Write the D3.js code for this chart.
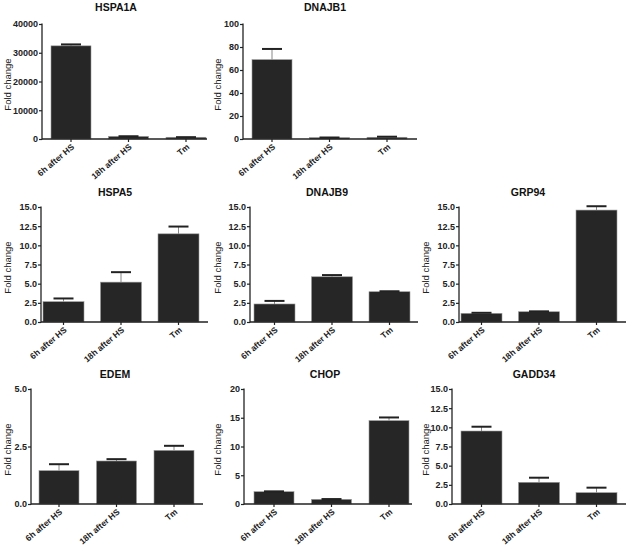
<!DOCTYPE html>
<html><head><meta charset="utf-8">
<script src="https://cdn.jsdelivr.net/npm/d3@7"></script>
<style>body{margin:0;background:#fff}svg{display:block}</style>
</head><body><svg id="c" width="628" height="547"></svg>
<script>
const categories = ["6h after HS", "18h after HS", "Tm"];
const genes = ["HSPA1A", "DNAJB1", "HSPA5", "DNAJB9", "GRP94", "EDEM", "CHOP", "GADD34"];
const hspa1aMean = [32400, 900, 600];
const hspa1aSem  = [500, 60, 40];
const dnajb1Mean = [69, 1.2, 1.5];
const dnajb1Sem  = [9.3, 0.1, 0.5];
const hspa5Mean  = [2.65, 5.2, 11.5];
const hspa5Sem   = [0.42, 1.3, 0.95];
const dnajb9Mean = [2.35, 5.9, 3.95];
const dnajb9Sem  = [0.4, 0.22, 0.06];
const grp94Mean  = [1.13, 1.34, 14.6];
const grp94Sem   = [0.07, 0.05, 0.5];
const edemMean   = [1.45, 1.87, 2.33];
const edemSem    = [0.28, 0.08, 0.2];
const chopMean   = [2.14, 0.81, 14.5];
const chopSem    = [0.06, 0.05, 0.55];
const gadd34Mean = [9.52, 2.83, 1.48];
const gadd34Sem  = [0.56, 0.6, 0.65];
const yMaxes = [40000, 100, 15, 15, 15, 5, 20, 15];
const yTicks = [
  [0, 10000, 20000, 30000, 40000],
  [0, 20, 40, 60, 80, 100],
  [0, 2.5, 5, 7.5, 10, 12.5, 15],
  [0, 2.5, 5, 7.5, 10, 12.5, 15],
  [0, 2.5, 5, 7.5, 10, 12.5, 15],
  [0, 2.5, 5],
  [0, 5, 10, 15, 20],
  [0, 2.5, 5, 7.5, 10, 12.5, 15]
];
const yFormats = ["d", "d", ".1f", ".1f", ".1f", ".1f", "d", ".1f"];
const means = [hspa1aMean, dnajb1Mean, hspa5Mean, dnajb9Mean, grp94Mean, edemMean, chopMean, gadd34Mean];
const sems  = [hspa1aSem, dnajb1Sem, hspa5Sem, dnajb9Sem, grp94Sem, edemSem, chopSem, gadd34Sem];

// layout (pixel geometry, not data)
const layout = [
  {ax: 42,  top: 24,  bot: 139, end: 207, bs: 51,  step: 57.5, bw: 40, tx: 116, ty: 11,  lx: 7},
  {ax: 243, top: 24,  bot: 139, end: 417, bs: 252, step: 57.5, bw: 40, tx: 325, ty: 11,  lx: 217},
  {ax: 41,  top: 207, bot: 322, end: 208, bs: 43,  step: 57.5, bw: 41, tx: 115, ty: 196, lx: 7},
  {ax: 250, top: 207, bot: 322, end: 418, bs: 254, step: 57.5, bw: 41, tx: 327, ty: 196, lx: 217},
  {ax: 459, top: 207, bot: 322, end: 626, bs: 461, step: 57.5, bw: 41, tx: 528, ty: 196, lx: 425},
  {ax: 31,  top: 389, bot: 504, end: 203, bs: 39,  step: 57.5, bw: 40, tx: 115, ty: 378, lx: 7},
  {ax: 244, top: 389, bot: 504, end: 412, bs: 254, step: 57.5, bw: 40, tx: 325, ty: 378, lx: 217},
  {ax: 452, top: 389, bot: 504, end: 626, bs: 461, step: 57.5, bw: 41, tx: 534, ty: 378, lx: 425}
];

const svg = d3.select("#c");
const FONT = "'Liberation Sans', Arial, sans-serif";

genes.forEach((gene, i) => {
  const L = layout[i];
  const g = svg.append("g");
  const y = d3.scaleLinear().domain([0, yMaxes[i]]).range([L.bot, L.top]);
  const x = d3.scaleBand().domain(categories)
    .range([L.bs, L.bs + 2 * L.step + L.bw])
    .paddingInner((L.step - L.bw) / L.step).paddingOuter(0);

  // title
  g.append("text").attr("x", L.tx).attr("y", L.ty).attr("text-anchor", "middle")
    .attr("font-family", FONT).attr("font-weight", "bold").attr("font-size", "10.5px")
    .attr("fill", "#111").text(gene);

  // y label
  g.append("text").attr("transform", `translate(${L.lx + 3.5},${(L.top + L.bot) / 2 + 3}) rotate(-90)`)
    .attr("text-anchor", "middle").attr("font-family", FONT).attr("font-size", "9.5px")
    .attr("fill", "#222").text("Fold change");

  // bars
  const data = categories.map((c, k) => ({c, m: means[i][k], s: sems[i][k]}));
  g.selectAll("rect.bar").data(data).enter().append("rect")
    .attr("x", d => x(d.c)).attr("width", x.bandwidth())
    .attr("y", d => y(d.m)).attr("height", d => y(0) - y(d.m))
    .attr("fill", "#262626").attr("stroke", "#9a9a9a").attr("stroke-width", 0.6);

  // error bars
  g.selectAll("line.err").data(data).enter().append("line")
    .attr("x1", d => x(d.c) + x.bandwidth() / 2).attr("x2", d => x(d.c) + x.bandwidth() / 2)
    .attr("y1", d => y(d.m)).attr("y2", d => y(d.m + d.s))
    .attr("stroke", "#888").attr("stroke-width", 1);
  g.selectAll("line.cap").data(data).enter().append("line")
    .attr("x1", d => x(d.c) + x.bandwidth() / 2 - 10).attr("x2", d => x(d.c) + x.bandwidth() / 2 + 10)
    .attr("y1", d => y(d.m + d.s)).attr("y2", d => y(d.m + d.s))
    .attr("stroke", "#222").attr("stroke-width", 2);

  // y axis
  const yAxis = d3.axisLeft(y).tickValues(yTicks[i]).tickFormat(d3.format(yFormats[i])).tickSize(3).tickPadding(1);
  const ya = g.append("g").attr("transform", `translate(${L.ax},0)`).call(yAxis);
  ya.select(".domain").remove();
  ya.append("line").attr("x1", 0).attr("x2", 0).attr("y1", L.top - 0.5).attr("y2", L.bot + 0.5)
    .attr("stroke", "#222").attr("stroke-width", 1.3);
  ya.selectAll(".tick line").attr("stroke", "#222").attr("stroke-width", 1.2);
  ya.selectAll(".tick text").attr("font-family", FONT).attr("font-weight", "bold")
    .attr("font-size", "9px").attr("fill", "#222");

  // x axis
  const xAxis = d3.axisBottom(x).tickSize(3).tickFormat("");
  const xa = g.append("g").attr("transform", `translate(0,${L.bot})`).call(xAxis);
  xa.select(".domain").remove();
  xa.append("line").attr("x1", L.ax).attr("x2", L.end).attr("y1", 0).attr("y2", 0)
    .attr("stroke", "#222").attr("stroke-width", 1.3);
  xa.selectAll(".tick line").attr("stroke", "#222").attr("stroke-width", 1.2);
  xa.selectAll(".tick").append("text")
    .attr("transform", "translate(2,6.5) rotate(-40)")
    .attr("text-anchor", "end").attr("dy", "0.35em")
    .attr("font-family", FONT).attr("font-weight", "bold").attr("font-size", "8.5px")
    .attr("fill", "#222").text(d => d);
});
</script></body></html>
